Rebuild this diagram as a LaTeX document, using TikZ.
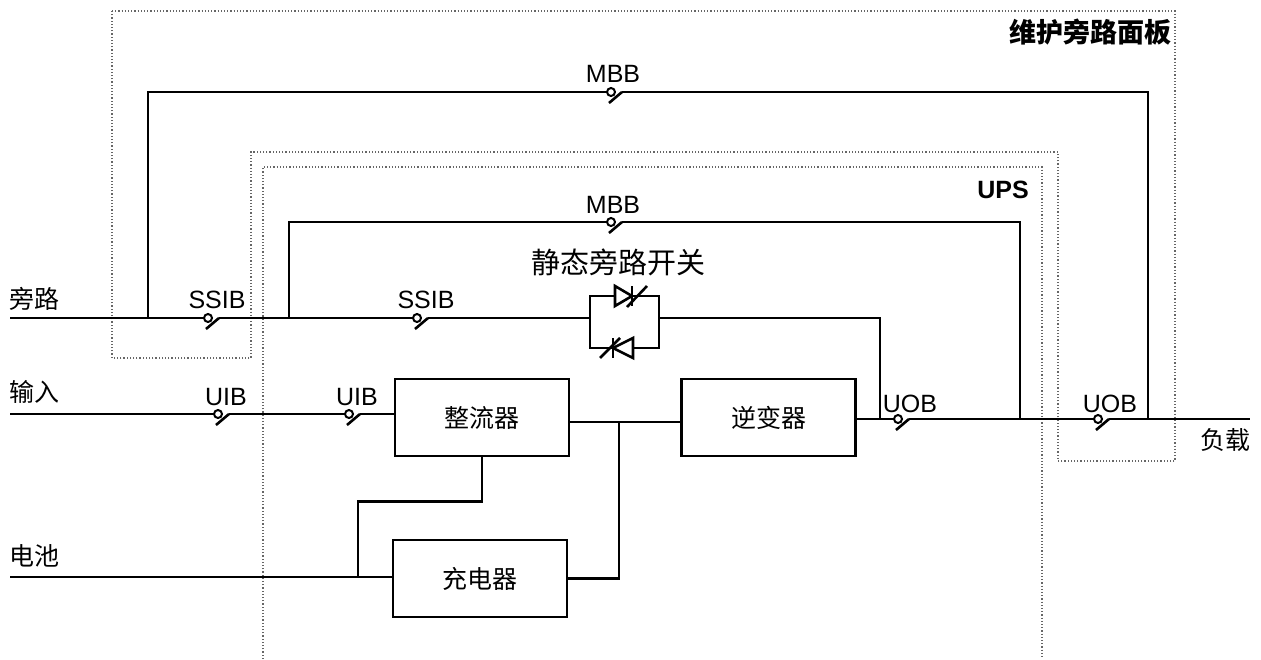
\documentclass[tikz,border=0pt]{standalone}
\usepackage{fontspec}
\setmainfont{Liberation Sans}
\newfontfamily\cjk{Noto Sans CJK SC}
\usetikzlibrary{calc}
\usetikzlibrary{positioning}
\tikzstyle{wire} = [line width=1.3pt]
\tikzstyle{frame} = [draw=black!60, line width=0.6pt, densely dotted]
\tikzstyle{blk} = [draw, line width=1.4pt, minimum width=87pt, minimum height=38.5pt, font=\cjk\fontsize{12.5}{14}\selectfont]
\tikzstyle{swlbl} = [inner sep=0, font=\fontsize{12.5}{14}\selectfont]
\tikzstyle{cnlbl} = [inner sep=0, font=\cjk\fontsize{12.5}{14}\selectfont]
\tikzset{brkr/.pic={
    \draw[line width=1pt] (0,0) circle (2pt);
    \draw[wire] (-2,11) -- (11,0);
    \coordinate (-a) at (-4,0);
    \coordinate (-b) at (11,0);
}}

\begin{document}
\begin{tikzpicture}[x=0.5pt, y=-0.5pt]
    \useasboundingbox (0,0) rectangle (1261,659);

    \draw[frame] (112,11) -- (1175,11) -- (1175,461) -- (1058,461) -- (1058,152) -- (251,152) -- (251,358) -- (112,358) -- cycle;
    \draw[frame] (263,659) -- (263,167) -- (1042,167) -- (1042,659);
    \node[inner sep=0, font=\cjk\bfseries\fontsize{13.5}{15}\selectfont] (ttl_panel) at (1090,32) {维护旁路面板};
    \node[inner sep=0, font=\bfseries\fontsize{12.5}{14}\selectfont] (ttl_ups) at (1003,190) {UPS};

    \node[blk] (rect_box) at (482,417.5) {整流器};
    \node[blk] (inv_box) at (768.5,417.5) {逆变器};
    \node[blk] (chg_box) at (480,578.5) {充电器};

    \coordinate (byp_in) at (10,318);
    \coordinate (inp_in) at (10,414);
    \coordinate (bat_in) at (10,577);
    \coordinate (load_out) at (1250,419);
    \coordinate (jn_mbb_a) at (148,318);
    \coordinate (jn_mbb_b) at (289,318);
    \coordinate (jn_out_a) at (880,419);
    \coordinate (jn_out_b) at (1020,419);
    \coordinate (jn_out_c) at (1148,419);
    \coordinate (dc_bus) at (619,422);
    \coordinate (bat_tap) at (358,577);
    \coordinate (scr_l) at (590,318);
    \coordinate (scr_r) at (659,318);

    \node[cnlbl] (lbl_byp) at (35,299) {旁路};
    \node[cnlbl] (lbl_inp) at (35,392) {输入};
    \node[cnlbl] (lbl_bat) at (35,556) {电池};
    \node[cnlbl] (lbl_load) at (1225,440) {负载};
    \node[cnlbl, font=\cjk\fontsize{14.5}{16}\selectfont] (lbl_scr) at (618,262) {静态旁路开关};

    \pic (ssib_a) at (208,318) {brkr};
    \pic (ssib_b) at (417,318) {brkr};
    \pic (mbb_a) at (611,92) {brkr};
    \pic (mbb_b) at (611,222) {brkr};
    \pic (uib_a) at (218,414) {brkr};
    \pic (uib_b) at (349,414) {brkr};
    \pic (uob_a) at (898,419) {brkr};
    \pic (uob_b) at (1098,419) {brkr};
    \node[swlbl] (lbl_ssib_a) at (217,300) {SSIB};
    \node[swlbl] (lbl_ssib_b) at (426,300) {SSIB};
    \node[swlbl] (lbl_mbb_a) at (613,74) {MBB};
    \node[swlbl] (lbl_mbb_b) at (613,205) {MBB};
    \node[swlbl] (lbl_uib_a) at (226,397) {UIB};
    \node[swlbl] (lbl_uib_b) at (357,397) {UIB};
    \node[swlbl] (lbl_uob_a) at (910,404) {UOB};
    \node[swlbl] (lbl_uob_b) at (1110,404) {UOB};

    \draw[wire] (byp_in) -- (ssib_a-a);
    \draw[wire] (ssib_a-b) -- (ssib_b-a);
    \draw[wire] (ssib_b-b) -- (scr_l);
    \draw[wire] (jn_mbb_a) |- (mbb_a-a);
    \draw[wire] (mbb_a-b) -| (jn_out_c);
    \draw[wire] (jn_mbb_b) |- (mbb_b-a);
    \draw[wire] (mbb_b-b) -| (jn_out_b);
    \draw[wire] (scr_r) -| (jn_out_a);

    \draw[wire] (590,296) rectangle (659,348);
    \draw[wire, fill=white] (615,286) -- (632,296) -- (615,306) -- cycle;
    \draw[wire] (632,286) -- (632,306);
    \draw[wire] (627,307) -- (647,286);
    \draw[wire, fill=white] (633,338) -- (613,348) -- (633,358) -- cycle;
    \draw[wire] (613,338) -- (613,358);
    \draw[wire] (600,358) -- (620,338);

    \draw[wire] (inp_in) -- (uib_a-a);
    \draw[wire] (uib_a-b) -- (uib_b-a);
    \draw[wire] (uib_b-b) -- (uib_b-b -| rect_box.west);
    \draw[wire] (dc_bus -| rect_box.east) -- (dc_bus -| inv_box.west);
    \draw[wire] (dc_bus) |- (chg_box.east);
    \draw[wire] (rect_box.south) -- ++(0,44) -| (bat_tap);
    \draw[wire] (bat_in) -- (bat_in -| chg_box.west);
    \draw[wire] (uob_a-a -| inv_box.east) -- (uob_a-a);
    \draw[wire] (uob_a-b) -- (uob_b-a);
    \draw[wire] (uob_b-b) -- (load_out);
\end{tikzpicture}
\end{document}
